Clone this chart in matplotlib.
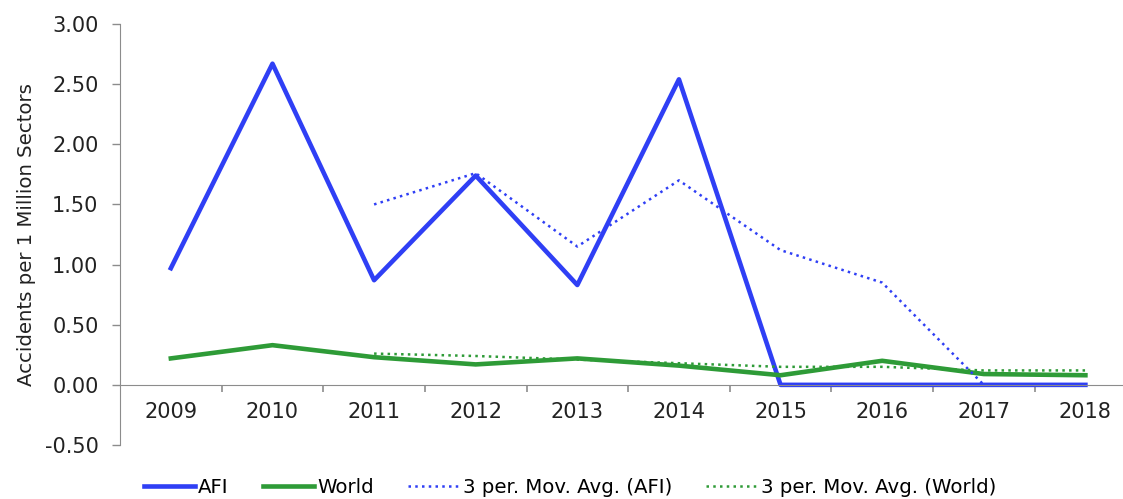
import matplotlib
matplotlib.use("Agg")
import matplotlib.pyplot as plt
import numpy as np
from matplotlib.ticker import FixedLocator, FuncFormatter

# data
years = [2009, 2010, 2011, 2012, 2013, 2014, 2015, 2016, 2017, 2018]
afi = [0.97, 2.67, 0.87, 1.74, 0.83, 2.54, 0.00, 0.00, 0.00, 0.00]
world = [0.22, 0.33, 0.23, 0.17, 0.22, 0.16, 0.08, 0.20, 0.09, 0.08]
ma_afi = [np.nan, np.nan, 1.50, 1.76, 1.15, 1.70, 1.12, 0.85, 0.00, 0.00]
ma_world = [np.nan, np.nan, 0.26, 0.24, 0.21, 0.18, 0.15, 0.15, 0.12, 0.12]

blue = "#2f3ff5"
green = "#2e9b37"
grey = "#8c8c8c"

plt.rcParams["font.family"] = ["DejaVu Sans"]

fig = plt.figure(figsize=(11.23, 4.99), dpi=100)
ax = fig.add_axes([0.1069, 0.1082, 0.8931, 0.8437])

ax.plot(years, afi, color=blue, lw=3.3, label="AFI")
ax.plot(years, world, color=green, lw=3.3, label="World")
ax.plot(years, ma_afi, color=blue, lw=1.8, ls=(0, (1, 1.7)), label="3 per. Mov. Avg. (AFI)")
ax.plot(years, ma_world, color=green, lw=1.8, ls=(0, (1, 1.7)), label="3 per. Mov. Avg. (World)")

ax.set_ylim(-0.5, 3.0)
ax.set_xlim(2008.5, 2018.37)
ax.set_yticks(np.arange(-0.5, 3.01, 0.5))
ax.yaxis.set_major_formatter(FuncFormatter(lambda v, p: f"{v:.2f}"))

ax.set_xticks(years)
ax.set_xticklabels([str(y) for y in years])
ax.xaxis.set_minor_locator(FixedLocator(np.arange(2009.5, 2018, 1.0)))

for s in ["top", "right"]:
    ax.spines[s].set_visible(False)
ax.spines["bottom"].set_position(("data", 0))
ax.spines["bottom"].set_color(grey)
ax.spines["left"].set_color(grey)

ax.tick_params(axis="x", which="major", length=0, pad=12, labelsize=15, colors="#222222")
ax.tick_params(axis="x", which="minor", length=5, width=1.2, color=grey, direction="out")
ax.tick_params(axis="y", length=6, width=1, color=grey, pad=9.5, labelsize=15, labelcolor="#222222")

ax.set_ylabel("Accidents per 1 Million Sectors", fontsize=14.2, color="#222222", labelpad=6)

fig.legend(loc="lower left", bbox_to_anchor=(0.112, -0.032), ncol=4, frameon=False,
           fontsize=14.2, handlelength=2.6, handletextpad=0.15, columnspacing=1.75)

plt.savefig("out.png", dpi=100)
